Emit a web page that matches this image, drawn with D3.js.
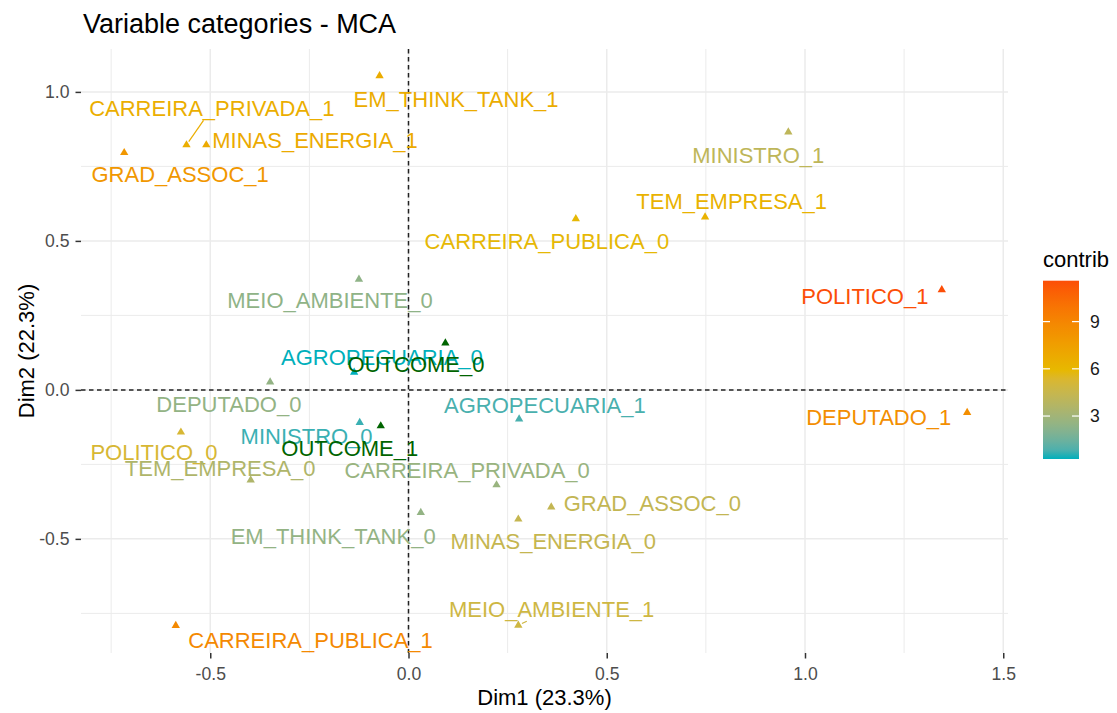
<!DOCTYPE html>
<html>
<head>
<meta charset="utf-8">
<script src="https://cdnjs.cloudflare.com/ajax/libs/d3/7.8.5/d3.min.js"></script>
<style>
body { margin: 0; background: #fff; }
text { font-family: "Liberation Sans", Arial, sans-serif; }
</style>
</head>
<body>
<div id="chart"></div>
<script>
// MCA variable categories, Dim1 / Dim2 coordinates
var categories = ['EM_THINK_TANK_1', 'CARREIRA_PRIVADA_1', 'MINAS_ENERGIA_1', 'GRAD_ASSOC_1',
	'MINISTRO_1', 'TEM_EMPRESA_1', 'CARREIRA_PUBLICA_0', 'MEIO_AMBIENTE_0', 'POLITICO_1',
	'AGROPECUARIA_0', 'DEPUTADO_0', 'AGROPECUARIA_1', 'MINISTRO_0', 'POLITICO_0',
	'TEM_EMPRESA_0', 'CARREIRA_PRIVADA_0', 'DEPUTADO_1', 'GRAD_ASSOC_0', 'EM_THINK_TANK_0',
	'MINAS_ENERGIA_0', 'MEIO_AMBIENTE_1', 'CARREIRA_PUBLICA_1', 'OUTCOME_0', 'OUTCOME_1'];
var dim1 = [-0.073, -0.560, -0.510, -0.717, 0.958, 0.748, 0.422, -0.125, 1.345,
	-0.137, -0.349, 0.279, -0.123, -0.574, -0.398, 0.222, 1.409, 0.360, 0.031,
	0.277, 0.277, -0.587, 0.093, -0.070];
var dim2 = [1.054, 0.822, 0.822, 0.796, 0.865, 0.580, 0.574, 0.371, 0.336,
	0.059, 0.026, -0.098, -0.110, -0.142, -0.303, -0.319, -0.076, -0.393, -0.412,
	-0.434, -0.790, -0.791, 0.157, -0.121];
// contribution (null = supplementary category, drawn in dark green)
var contrib = [6.7, 6.6, 6.8, 8.0, 4.1, 6.3, 5.9, 2.4, 11.6,
	0.27, 2.5, 0.8, 0.6, 5.2, 3.5, 2.7, 8.5, 4.3, 2.5,
	4.4, 4.8, 8.8, null, null];
// repelled label positions (text centre) in Dim1 / Dim2 units
var labelDim1 = [0.120, -0.496, -0.236, -0.576, 0.882, 0.815, 0.349, -0.198, 1.151,
	-0.067, -0.453, 0.344, -0.257, -0.642, -0.475, 0.148, 1.186, 0.615, -0.190,
	0.365, 0.361, -0.247, 0.019, -0.148];
var labelDim2 = [0.977, 0.945, 0.839, 0.725, 0.789, 0.632, 0.500, 0.300, 0.316,
	0.111, -0.047, -0.050, -0.154, -0.210, -0.261, -0.268, -0.090, -0.380, -0.492,
	-0.507, -0.736, -0.839, 0.087, -0.196];
var withSegment = ['CARREIRA_PRIVADA_1', 'MEIO_AMBIENTE_1'];

var xTicks = [-0.5, 0, 0.5, 1, 1.5];
var xMinor = [-0.75, -0.25, 0.25, 0.75, 1.25];
var yTicks = [-0.5, 0, 0.5, 1];
var yMinor = [-0.75, -0.25, 0.25, 0.75];
var legendTicks = [3, 6, 9];
var gradientColors = ['#00AFBB', '#E7B800', '#FC4E07'];
var supColor = '#006400';

var width = 1117, height = 713;
var panel = {left: 81, right: 1008, top: 49, bottom: 653};
var labelSize = 22;

var data = categories.map(function(c, i) {
	return {name: c, x: dim1[i], y: dim2[i], contrib: contrib[i], lx: labelDim1[i], ly: labelDim2[i]};
});
var active = data.filter(function(d) { return d.contrib !== null; });
var sup = data.filter(function(d) { return d.contrib === null; });

var x = d3.scaleLinear().domain([-0.826, 1.512]).range([panel.left, panel.right]);
var y = d3.scaleLinear().domain([-0.883, 1.144]).range([panel.bottom, panel.top]);

var cExtent = d3.extent(active, function(d) { return d.contrib; });
var color = d3.scaleLinear()
	.domain([cExtent[0], (cExtent[0] + cExtent[1]) / 2, cExtent[1]])
	.range(gradientColors)
	.interpolate(d3.interpolateLab);
var colorOf = function(d) { return d.contrib === null ? supColor : color(d.contrib); };
// plain hyphen for negatives, like R
var fmt = function(d) { return d3.format('.1f')(d).replace('\u2212', '-'); };

var svg = d3.select('#chart').append('svg')
	.attr('width', width)
	.attr('height', height);

// grid
var grid = svg.append('g');
grid.selectAll('line.minor-x').data(xMinor).enter().append('line')
	.attr('x1', x).attr('x2', x).attr('y1', panel.top).attr('y2', panel.bottom)
	.attr('stroke', '#EBEBEB').attr('stroke-width', 1);
grid.selectAll('line.minor-y').data(yMinor).enter().append('line')
	.attr('y1', y).attr('y2', y).attr('x1', panel.left).attr('x2', panel.right)
	.attr('stroke', '#EBEBEB').attr('stroke-width', 1);
grid.selectAll('line.major-x').data(xTicks).enter().append('line')
	.attr('x1', x).attr('x2', x).attr('y1', panel.top).attr('y2', panel.bottom)
	.attr('stroke', '#EBEBEB').attr('stroke-width', 1.5);
grid.selectAll('line.major-y').data(yTicks).enter().append('line')
	.attr('y1', y).attr('y2', y).attr('x1', panel.left).attr('x2', panel.right)
	.attr('stroke', '#EBEBEB').attr('stroke-width', 1.5);

// axes
var xAxis = svg.append('g')
	.attr('transform', 'translate(0,' + panel.bottom + ')')
	.call(d3.axisBottom(x).tickValues(xTicks).tickFormat(fmt).tickSize(5.5).tickPadding(5));
var yAxis = svg.append('g')
	.attr('transform', 'translate(' + panel.left + ',0)')
	.call(d3.axisLeft(y).tickValues(yTicks).tickFormat(fmt).tickSize(5.5).tickPadding(6));
[xAxis, yAxis].forEach(function(a) {
	a.select('.domain').remove();
	a.selectAll('.tick line').attr('stroke', '#333').attr('stroke-width', 1.5);
	a.selectAll('.tick text').attr('fill', '#4D4D4D').attr('font-size', 17.6)
		.attr('font-family', '"Liberation Sans", Arial, sans-serif');
});
xAxis.selectAll('.tick text').attr('dy', '0.95em');

// reference lines at 0
svg.append('line')
	.attr('x1', panel.left).attr('x2', panel.right).attr('y1', y(0)).attr('y2', y(0))
	.attr('stroke', '#222').attr('stroke-width', 1.5).attr('stroke-dasharray', '4.5,3.5');
svg.append('line')
	.attr('x1', x(0)).attr('x2', x(0)).attr('y1', panel.top).attr('y2', panel.bottom)
	.attr('stroke', '#222').attr('stroke-width', 1.5).attr('stroke-dasharray', '4.5,3.5');

var tri = d3.symbol().type(d3.symbolTriangle).size(30);

function drawLayer(set)
{
	var g = svg.append('g');
	// segments from label box to point
	g.selectAll('line.seg')
		.data(set.filter(function(d) { return withSegment.indexOf(d.name) >= 0; }))
		.enter().append('line')
		.attr('stroke', colorOf)
		.attr('stroke-width', 1.2)
		.each(function(d) {
			var cx = x(d.lx), cy = y(d.ly), px = x(d.x), py = y(d.y);
			var dx = px - cx, dy = py - cy;
			var t = Math.min(Math.abs(12 / dy), 1);
			var len = Math.sqrt(dx * dx + dy * dy);
			var e = 1 - 4 / len;
			d3.select(this)
				.attr('x1', cx + dx * t).attr('y1', cy + dy * t)
				.attr('x2', cx + dx * e).attr('y2', cy + dy * e);
		});
	g.selectAll('path.pt').data(set).enter().append('path')
		.attr('d', tri)
		.attr('transform', function(d) { return 'translate(' + x(d.x) + ',' + y(d.y) + ')'; })
		.attr('fill', colorOf);
	g.selectAll('text.lbl').data(set).enter().append('text')
		.attr('x', function(d) { return x(d.lx); })
		.attr('y', function(d) { return y(d.ly); })
		.attr('dy', '0.36em')
		.attr('text-anchor', 'middle')
		.attr('font-size', labelSize)
		.attr('fill', colorOf)
		.text(function(d) { return d.name; });
}
drawLayer(active);
drawLayer(sup);

// titles
svg.append('text')
	.attr('x', 83).attr('y', 33)
	.attr('font-size', 27).attr('fill', '#000')
	.text('Variable categories - MCA');
svg.append('text')
	.attr('x', (panel.left + panel.right) / 2).attr('y', 705)
	.attr('text-anchor', 'middle').attr('font-size', 22).attr('fill', '#000')
	.text('Dim1 (23.3%)');
svg.append('text')
	.attr('transform', 'translate(34,' + (panel.top + panel.bottom) / 2 + ') rotate(-90)')
	.attr('text-anchor', 'middle').attr('font-size', 22).attr('fill', '#000')
	.text('Dim2 (22.3%)');

// colour bar legend
var bar = {x: 1043, w: 36, top: 280.7, bottom: 459};
var ly = d3.scaleLinear().domain(cExtent).range([bar.bottom, bar.top]);
var grad = svg.append('defs').append('linearGradient')
	.attr('id', 'contribGrad')
	.attr('x1', 0).attr('x2', 0).attr('y1', 1).attr('y2', 0);
d3.range(0, 1.0001, 0.05).forEach(function(t) {
	grad.append('stop')
		.attr('offset', t)
		.attr('stop-color', color(cExtent[0] + t * (cExtent[1] - cExtent[0])));
});
var legend = svg.append('g');
legend.append('text')
	.attr('x', bar.x).attr('y', 267)
	.attr('font-size', 22).attr('fill', '#000')
	.text('contrib');
legend.append('rect')
	.attr('x', bar.x).attr('y', bar.top)
	.attr('width', bar.w).attr('height', bar.bottom - bar.top)
	.attr('fill', 'url(#contribGrad)');
legend.selectAll('line.tl').data(legendTicks).enter().append('line')
	.attr('x1', bar.x).attr('x2', bar.x + 7)
	.attr('y1', ly).attr('y2', ly)
	.attr('stroke', '#fff').attr('stroke-width', 1.2);
legend.selectAll('line.tr').data(legendTicks).enter().append('line')
	.attr('x1', bar.x + bar.w - 7).attr('x2', bar.x + bar.w)
	.attr('y1', ly).attr('y2', ly)
	.attr('stroke', '#fff').attr('stroke-width', 1.2);
legend.selectAll('text.tk').data(legendTicks).enter().append('text')
	.attr('x', bar.x + bar.w + 11)
	.attr('y', ly)
	.attr('dy', '0.36em')
	.attr('font-size', 17.6).attr('fill', '#1a1a1a')
	.text(function(d) { return d; });
</script>
</body>
</html>
